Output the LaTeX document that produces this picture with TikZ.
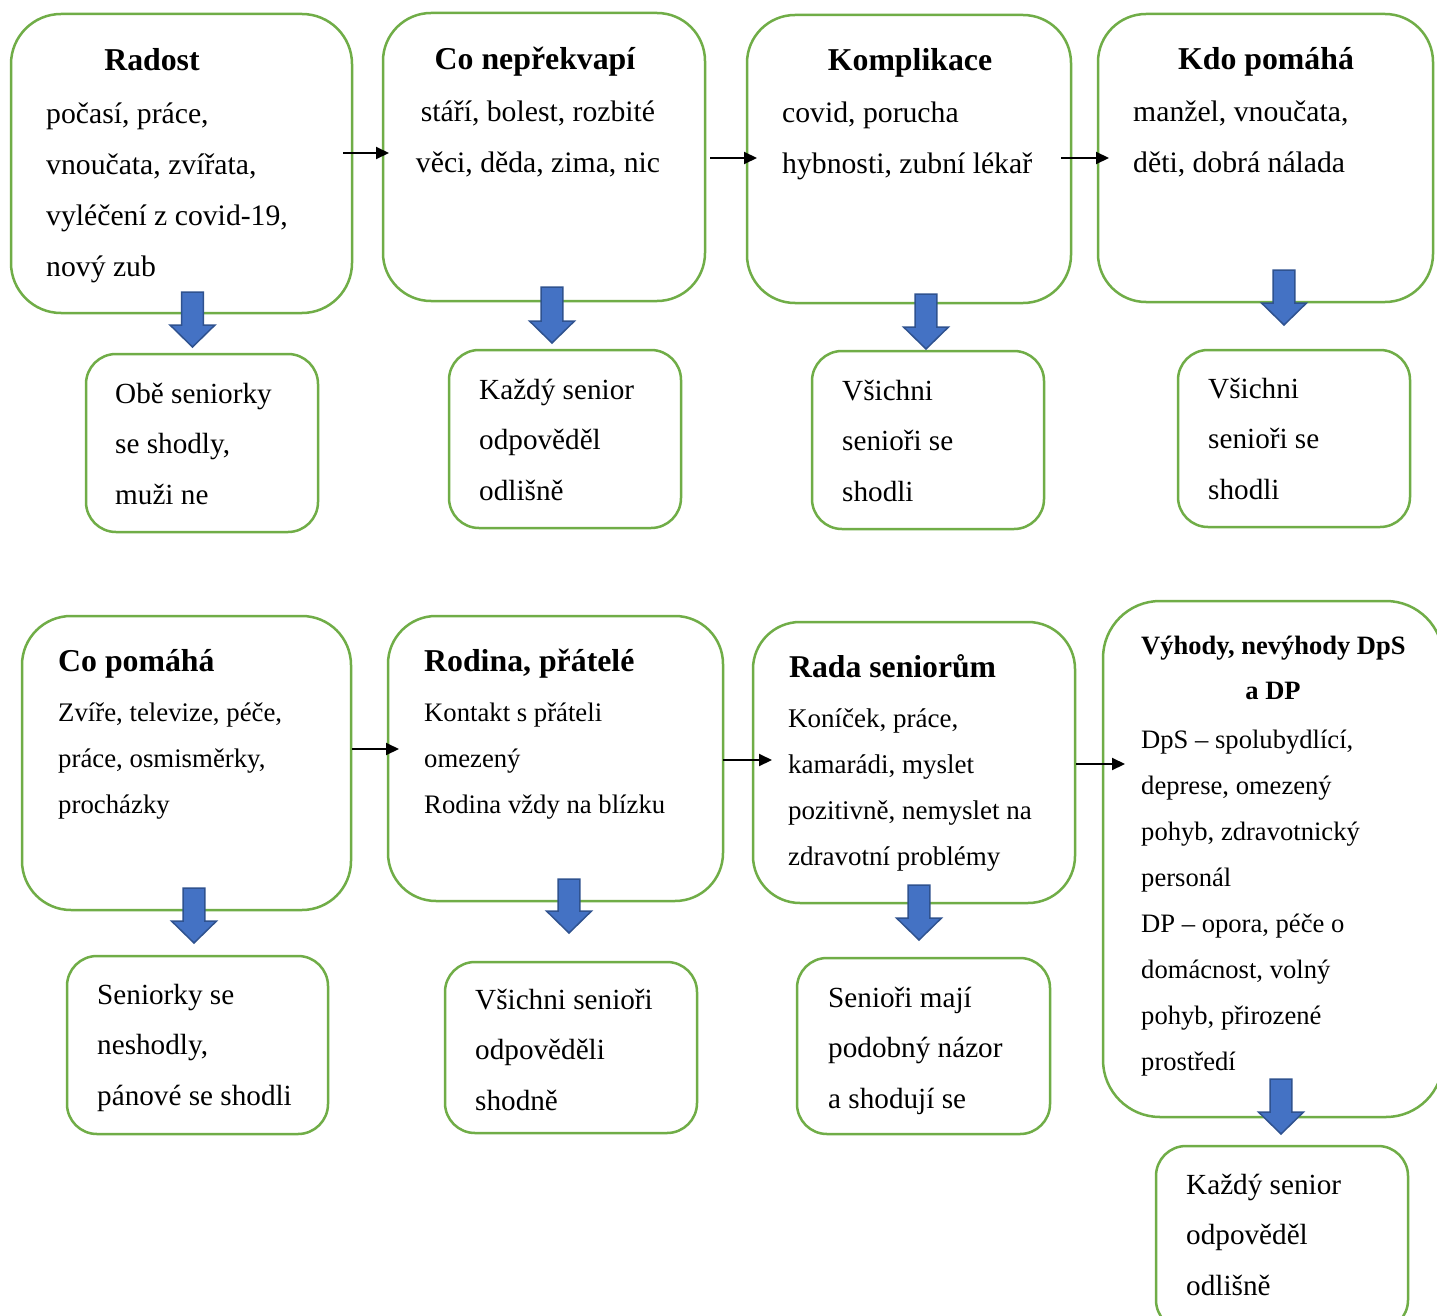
\documentclass[tikz,border=0pt]{standalone}
\usepackage{fontspec}
\setmainfont{Liberation Serif}
\usetikzlibrary{arrows.meta}
\definecolor{gr}{HTML}{70AD47}
\definecolor{bl}{HTML}{4472C4}
\definecolor{bld}{HTML}{2F528F}
\tikzset{
  gbox/.style={draw=gr, line width=2.5pt, inner sep=0pt, fill=white},
  hd/.style={font=\fontsize{31.8}{36}\selectfont\bfseries, anchor=base, inner sep=0pt},
  hdl/.style={font=\fontsize{#1}{36}\selectfont\bfseries, anchor=base west, inner sep=0pt},
  bt/.style={font=\fontsize{#1}{#1}\selectfont, anchor=base west, inner sep=0pt},
  btc/.style={font=\fontsize{#1}{#1}\selectfont, anchor=base, inner sep=0pt},
  arr/.style={line width=2pt, -{Triangle[length=13pt,width=12pt]}},
  barrow/.style={fill=bl, draw=bld, line width=1.5pt, line join=miter}
}
% box: name, x1, y1, x2, y2, radius
\newcommand\gbx[6]{\node[gbox, rounded corners=#6pt, minimum width={(#4-#2)*1pt}, minimum height={(#5-#3)*1pt}] (#1) at ({(#2+#4)/2},{(#3+#5)/2}) {};}
% text lines: style, name, x, first baseline, step, list
\newcommand\tl[6]{\foreach \t [count=\i from 0] in {#6}{\node[#1] (#2-\i) at (#3,{#4+\i*#5}) {\t};}}
% block arrow: centre x, top y, tip y
\newcommand\barr[3]{\draw[barrow] ({#1-10.8},#2) -- ({#1+10.8},#2) -- ({#1+10.8},{#3-22}) -- ({#1+22.5},{#3-22}) -- (#1,#3) -- ({#1-22.5},{#3-22}) -- ({#1-10.8},{#3-22}) -- cycle;}
\begin{document}
\begin{tikzpicture}[x=1pt,y=-1pt]
\useasboundingbox (0,0) rectangle (1437,1316);
\fill[white] (0,0) rectangle (1437,1316);
\clip (0,0) rectangle (1437,1316);
% ---------- row 1 boxes
\gbx{radost}{11}{14}{352}{313}{50}
\gbx{neprek}{383}{13}{705}{301}{48}
\gbx{kompl}{747}{15}{1071}{303}{48}
\gbx{kdo}{1098}{14}{1433}{302}{48}
\gbx{s1}{86}{354}{318}{532}{30}
\gbx{s2}{449}{350}{681}{528}{30}
\gbx{s3}{812}{351}{1044}{529}{30}
\gbx{s4}{1178}{350}{1410}{527}{30}
% ---------- row 2 boxes
\gbx{copom}{22}{616}{351}{910}{49}
\gbx{rodina}{388}{616}{723}{901}{48}
\gbx{rada}{753}{622}{1075}{903}{47}
\gbx{vyhody}{1103}{601}{1443}{1117}{57}
\gbx{t1}{67}{956}{328}{1134}{30}
\gbx{t2}{445}{962}{697}{1133}{30}
\gbx{t3}{797}{958}{1050}{1134}{30}
\gbx{t4}{1156}{1146}{1408}{1330}{30}
% ---------- texts row 1
\node[hd] (h-radost) at (152,71) {Radost};
\tl{bt=29.7}{radost}{46}{124}{50.7}{{počasí, práce,},{vnoučata, zvířata,},{vyléčení z covid-19,},{nový zub}}
\node[hd] (h-neprek) at (535,70) {Co nepřekvapí};
\tl{btc=29.7}{neprek}{538}{122}{50.7}{{stáří, bolest, rozbité},{věci, děda, zima, nic}}
\node[hd] (h-kompl) at (910,71) {Komplikace};
\tl{bt=29.7}{kompl}{782}{123}{51}{{covid, porucha},{hybnosti, zubní lékař}}
\node[hd] (h-kdo) at (1266,70) {Kdo pomáhá};
\tl{bt=29.7}{kdo}{1133}{122}{51}{{manžel, vnoučata,},{děti, dobrá nálada}}
\tl{bt=29.2}{s1}{115}{403}{50.7}{{Obě seniorky},{se shodly,},{muži ne}}
\tl{bt=29.2}{s2}{479}{399}{50.7}{{Každý senior},{odpověděl},{odlišně}}
\tl{bt=29.2}{s3}{842}{400}{50.5}{{Všichni},{senioři se},{shodli}}
\tl{bt=29.2}{s4}{1208}{398}{50.5}{{Všichni},{senioři se},{shodli}}
% ---------- texts row 2
\node[hdl=31.8] (h-copom) at (58,671) {Co pomáhá};
\tl{bt=26.8}{copom}{58}{721}{46}{{Zvíře, televize, péče,},{práce, osmisměrky,},{procházky}}
\node[hdl=31.8] (h-rodina) at (424,671) {Rodina, přátelé};
\tl{bt=26.7}{rodina}{424}{721}{46}{{Kontakt s přáteli},{omezený},{Rodina vždy na blízku}}
\node[hdl=31.7] (h-rada) at (789,677) {Rada seniorům};
\tl{bt=27}{rada}{788}{727}{46}{{Koníček, práce,},{kamarádi, myslet},{pozitivně, nemyslet na},{zdravotní problémy}}
\node[hdl=26.5] (h-vyhody) at (1141,654) {Výhody, nevýhody DpS};
\node[font=\fontsize{26.5}{30}\selectfont\bfseries, anchor=base, inner sep=0pt] (h-vyhody2) at (1273,699) {a DP};
\tl{bt=26.6}{vyhody}{1141}{748}{46}{{DpS – spolubydlící,},{deprese, omezený},{pohyb, zdravotnický},{personál},{DP – opora, péče o},{domácnost, volný},{pohyb, přirozené},{prostředí}}
\tl{bt=29.2}{t1}{97}{1004}{50.5}{{Seniorky se},{neshodly,},{pánové se shodli}}
\tl{bt=29.2}{t2}{475}{1009}{50.5}{{Všichni senioři},{odpověděli},{shodně}}
\tl{bt=29.2}{t3}{828}{1007}{50.5}{{Senioři mají},{podobný názor},{a shodují se}}
\tl{bt=29.2}{t4}{1186}{1194}{50.5}{{Každý senior},{odpověděl},{odlišně}}
% ---------- black arrows
\coordinate (a1s) at (343,153); \coordinate (a1e) at (389,153);
\coordinate (a2s) at (710,158); \coordinate (a2e) at (757,158);
\coordinate (a3s) at (1061,158); \coordinate (a3e) at (1109,158);
\coordinate (a4s) at (352,749); \coordinate (a4e) at (399,749);
\coordinate (a5s) at (723,760); \coordinate (a5e) at (772,760);
\coordinate (a6s) at (1076,764); \coordinate (a6e) at (1125,764);
\foreach \k in {1,...,6}{\draw[arr] (a\k s) -- (a\k e);}
% ---------- block arrows
\barr{192.5}{292}{347}
\barr{552}{287}{343}
\barr{926}{294}{349}
\barr{1284}{270}{325}
\barr{194}{888}{943}
\barr{569}{879}{933}
\barr{919}{885}{940}
\barr{1281}{1079}{1134}
\end{tikzpicture}
\end{document}
